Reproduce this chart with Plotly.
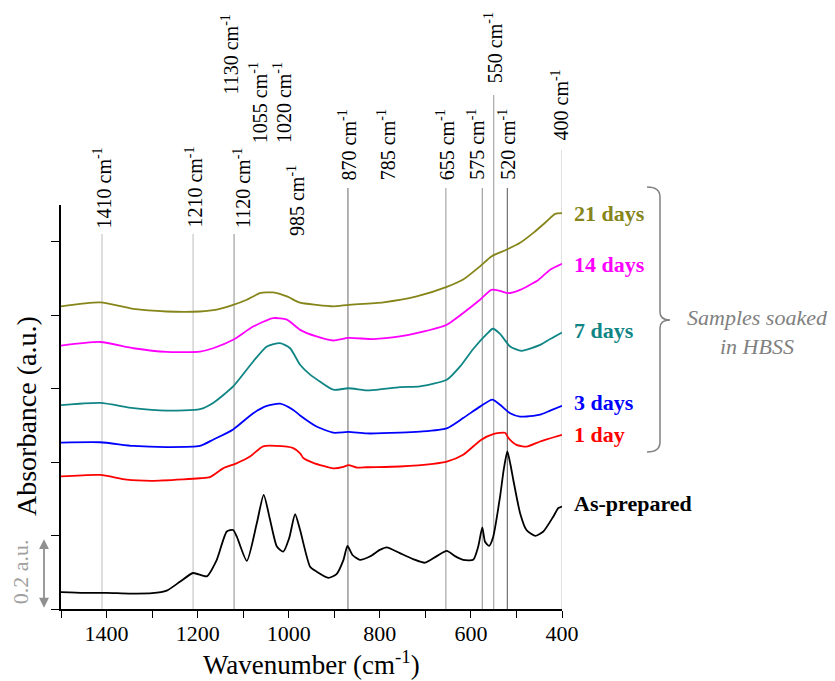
import plotly.graph_objects as go

# ---- FTIR spectra (wavenumber in cm^-1, absorbance in a.u., offset for display) ----
wn_asprep = [1500, 1450, 1400, 1350, 1300, 1268, 1239, 1210, 1180, 1158, 1136, 1122, 1114,
             1092, 1070, 1055, 1041, 1026, 1012, 999, 986, 975, 953, 939, 913, 895, 880,
             871, 860, 844, 822, 800, 785, 756, 727, 701, 675, 653, 635, 617, 595, 584,
             575, 569, 560, 551, 536, 528, 520, 513, 507, 492, 478, 459, 441, 419, 408, 400]
abs_asprep = [0.046, 0.044, 0.044, 0.042, 0.043, 0.050, 0.074, 0.098, 0.089, 0.134, 0.211,
              0.215, 0.197, 0.131, 0.234, 0.311, 0.243, 0.170, 0.156, 0.193, 0.258, 0.215,
              0.115, 0.102, 0.085, 0.095, 0.133, 0.172, 0.147, 0.134, 0.143, 0.161, 0.168,
              0.152, 0.136, 0.126, 0.144, 0.158, 0.144, 0.134, 0.134, 0.170, 0.222, 0.183,
              0.172, 0.197, 0.306, 0.379, 0.429, 0.392, 0.352, 0.261, 0.215, 0.199, 0.211,
              0.252, 0.275, 0.279]

wn_1d = [1500, 1414, 1356, 1300, 1231, 1195, 1173, 1144, 1116, 1085, 1056, 1004, 990, 975,
         968, 946, 902, 880, 869, 850, 829, 756, 683, 653, 617, 577, 551, 525, 518, 500,
         478, 448, 400]
abs_1d = [0.361, 0.365, 0.352, 0.349, 0.353, 0.356, 0.359, 0.383, 0.396, 0.415, 0.443,
          0.442, 0.438, 0.424, 0.411, 0.398, 0.383, 0.387, 0.392, 0.385, 0.386, 0.388,
          0.395, 0.401, 0.420, 0.461, 0.476, 0.480, 0.466, 0.447, 0.442, 0.456, 0.474]

wn_3d = [1500, 1414, 1341, 1268, 1195, 1166, 1122, 1078, 1048, 1019, 990, 975, 939, 902,
         869, 829, 756, 712, 653, 617, 580, 553, 536, 514, 492, 463, 448, 426, 400]
abs_3d = [0.453, 0.454, 0.444, 0.441, 0.444, 0.461, 0.489, 0.533, 0.553, 0.559, 0.542,
          0.527, 0.497, 0.480, 0.482, 0.478, 0.480, 0.483, 0.492, 0.520, 0.551, 0.570,
          0.556, 0.533, 0.524, 0.526, 0.529, 0.540, 0.553]

wn_7d = [1500, 1414, 1341, 1268, 1195, 1166, 1122, 1078, 1048, 1019, 997, 975, 953, 931,
         902, 869, 822, 756, 712, 653, 624, 595, 565, 552, 536, 514, 489, 448, 426, 400]
abs_7d = [0.555, 0.561, 0.547, 0.540, 0.544, 0.561, 0.606, 0.674, 0.715, 0.724, 0.710,
          0.665, 0.638, 0.619, 0.597, 0.601, 0.595, 0.604, 0.606, 0.624, 0.660, 0.708,
          0.749, 0.763, 0.749, 0.715, 0.703, 0.719, 0.735, 0.753]

wn_14d = [1500, 1414, 1341, 1268, 1195, 1166, 1122, 1078, 1034, 1004, 975, 939, 902, 869,
          814, 756, 712, 653, 617, 580, 555, 536, 518, 492, 452, 426, 400]
abs_14d = [0.717, 0.727, 0.710, 0.700, 0.701, 0.710, 0.733, 0.769, 0.792, 0.788, 0.760,
           0.742, 0.731, 0.738, 0.735, 0.742, 0.753, 0.774, 0.806, 0.842, 0.869, 0.866,
           0.860, 0.869, 0.896, 0.924, 0.940]

wn_21d = [1500, 1414, 1341, 1268, 1195, 1158, 1122, 1092, 1063, 1034, 1004, 975, 939, 902,
          869, 792, 719, 653, 617, 580, 555, 522, 492, 463, 434, 415, 400]
abs_21d = [0.824, 0.835, 0.817, 0.810, 0.810, 0.815, 0.828, 0.842, 0.860, 0.862, 0.851,
           0.834, 0.828, 0.824, 0.828, 0.835, 0.851, 0.877, 0.897, 0.933, 0.960, 0.978,
           0.997, 1.024, 1.055, 1.076, 1.078]

series_names = ["As-prepared", "1 day", "3 days", "7 days", "14 days", "21 days"]
series_colors = ["#000000", "#ff0000", "#0000ff", "#108585", "#ff00ff", "#85851a"]
series_x = [wn_asprep, wn_1d, wn_3d, wn_7d, wn_14d, wn_21d]
series_y = [abs_asprep, abs_1d, abs_3d, abs_7d, abs_14d, abs_21d]
label_y_px = [503, 434, 402, 330, 264, 213]

# ---- band assignments: position, label bottom (px), guide-line top (px or None), line colour ----
band_wn = [1410, 1210, 1120, 1130, 1055, 1020, 985, 870, 785, 655, 575, 550, 520, 400]
band_label_bottom = [230, 230, 230, 97, 145, 145, 238, 182, 182, 182, 182, 85, 182, 143]
band_label_shift = [0, 0, 8, 0, -6, 2, 0, 0, 0, 0, -6, 0, 0, -3]
band_line_top = [234, 234, 234, None, None, None, None, 188, None, 188, 188, 95, 188, 150]
band_line_color = ["#c8c8c8", "#c8c8c8", "#a0a0a0", None, None, None, None, "#808080",
                   None, "#a8a8a8", "#a0a0a0", "#a8a8a8", "#707070", "#cccccc"]

W, H = 835, 681
L, R, T, B = 61, 562, 205, 609  # plot-area edges in pixels
FONT = "Liberation Serif"


def px_x(x):
    return (x - L) / (R - L)


def px_y(y):
    return (B - y) / (B - T)


fig = go.Figure()

shapes = []
for wn, top, col in zip(band_wn, band_line_top, band_line_color):
    if top is None:
        continue
    shapes.append(dict(type="line", xref="x", yref="paper", x0=wn, x1=wn, y0=0, y1=px_y(top),
                       line=dict(color=col, width=1.2), layer="below"))

for xs, ys, col in zip(series_x, series_y, series_colors):
    fig.add_trace(go.Scatter(x=xs, y=ys, mode="lines",
                             line=dict(color=col, width=1.8, shape="spline", smoothing=0.6),
                             showlegend=False, hoverinfo="skip"))

# bracket grouping the soaked samples
bx = lambda v: f"{px_x(v):.4f}"
by = lambda v: f"{px_y(v):.4f}"
bracket = (f"M {bx(647)},{by(187)} Q {bx(660)},{by(187)} {bx(660)},{by(197)} "
           f"L {bx(660)},{by(312)} Q {bx(660)},{by(320)} {bx(670)},{by(320)} "
           f"Q {bx(660)},{by(320)} {bx(660)},{by(328)} "
           f"L {bx(660)},{by(442)} Q {bx(660)},{by(452)} {bx(647)},{by(452)}")
shapes.append(dict(type="path", xref="paper", yref="paper", path=bracket,
                   line=dict(color="#808080", width=1.5)))

annotations = []
for wn, bot, sh in zip(band_wn, band_label_bottom, band_label_shift):
    annotations.append(dict(x=wn, xref="x", y=px_y(bot), yref="paper", xshift=sh,
                            text=f"{wn} cm<sup>-1</sup>", textangle=-90, showarrow=False,
                            xanchor="center", yanchor="bottom",
                            font=dict(family=FONT, size=20, color="#000000")))

for name, col, ypx in zip(series_names, series_colors, label_y_px):
    annotations.append(dict(x=px_x(572), xref="paper", y=px_y(ypx), yref="paper",
                            text=f"<b>{name}</b>", showarrow=False, xanchor="left",
                            yanchor="middle", font=dict(family=FONT, size=22, color=col)))

annotations.append(dict(x=px_x(757), xref="paper", y=px_y(332), yref="paper",
                        text="<i>Samples soaked<br>in HBSS</i>", showarrow=False,
                        xanchor="center", yanchor="middle", align="center",
                        font=dict(family=FONT, size=22, color="#808080")))

# 0.2 a.u. scale bar (double-headed arrow spanning 0.2 on the y scale)
scale_top = 0.19
annotations.append(dict(x=px_x(44), xref="paper", y=scale_top, yref="y",
                        ax=0, ay=round(scale_top * (B - T) / 1.1), axref="pixel", ayref="pixel",
                        text="", showarrow=True, arrowside="end+start",
                        arrowhead=2, arrowsize=1.1, arrowwidth=1.8, arrowcolor="#909090"))
annotations.append(dict(x=px_x(20), xref="paper", y=0.1, yref="y", text="0.2 a.u.",
                        textangle=-90, showarrow=False, xanchor="center", yanchor="middle",
                        font=dict(family=FONT, size=22, color="#a0a0a0")))

# axis titles
annotations.append(dict(x=px_x(26), xref="paper", y=px_y(416), yref="paper",
                        text="Absorbance (a.u.)", textangle=-90, showarrow=False,
                        xanchor="center", yanchor="middle",
                        font=dict(family=FONT, size=28, color="#000000")))
annotations.append(dict(x=px_x(311), xref="paper", y=px_y(663), yref="paper",
                        text="Wavenumber (cm<sup>-1</sup>)", showarrow=False,
                        xanchor="center", yanchor="middle",
                        font=dict(family=FONT, size=27, color="#000000")))

x_tickvals = [1500, 1400, 1300, 1200, 1100, 1000, 900, 800, 700, 600, 500, 400]
x_ticktext = ["", "1400", "", "1200", "", "1000", "", "800", "", "600", "", "400"]
y_tickvals = [0, 0.2, 0.4, 0.6, 0.8, 1.0]

fig.update_layout(
    width=W, height=H,
    margin=dict(l=L, r=W - R, t=T, b=H - B),
    paper_bgcolor="white", plot_bgcolor="white",
    shapes=shapes, annotations=annotations,
    xaxis=dict(range=[1500, 400], showgrid=False, zeroline=False, showline=True,
               linecolor="#000000", linewidth=1.5, ticks="outside", ticklen=7,
               tickwidth=1.3, tickcolor="#000000", tickvals=x_tickvals,
               ticktext=x_ticktext, ticklabelstandoff=-3,
               tickfont=dict(family=FONT, size=22, color="#000000")),
    yaxis=dict(range=[0, 1.1], showgrid=False, zeroline=False, showline=True,
               linecolor="#000000", linewidth=1.5, ticks="outside", ticklen=8,
               tickwidth=1.3, tickcolor="#000000", tickvals=y_tickvals,
               showticklabels=False),
)

fig.write_html("out.html")
